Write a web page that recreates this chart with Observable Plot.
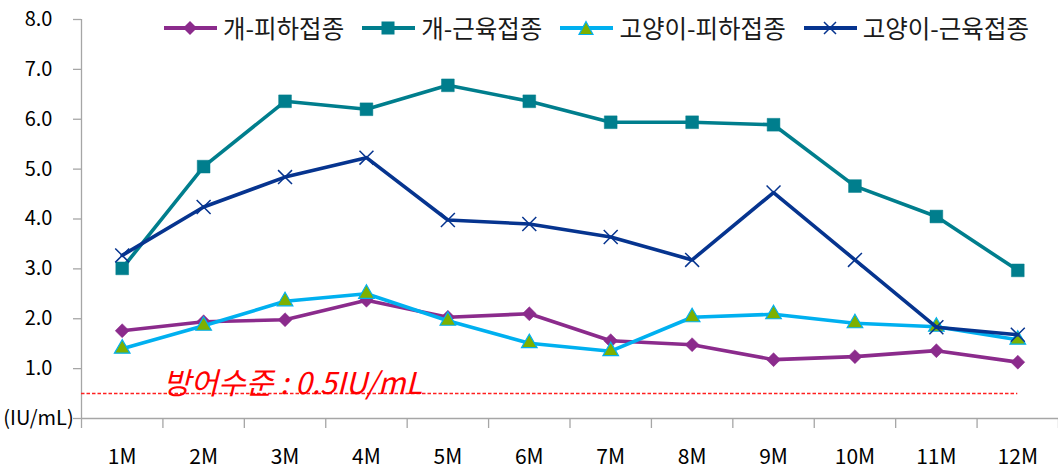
<!DOCTYPE html>
<html>
<head>
<meta charset="utf-8">
<script src="https://cdn.jsdelivr.net/npm/d3@7"></script>
<script src="https://cdn.jsdelivr.net/npm/@observablehq/plot@0.6"></script>
<style>
  html, body { margin: 0; padding: 0; background: #fff; }
  #wrap { position: relative; width: 1058px; height: 472px; font-family: "Noto Sans CJK KR", "Noto Sans", sans-serif; }
  #legend { position: absolute; top: 13px; left: 164px; display: flex; gap: 18px; align-items: center; font-size: 24.5px; color: #1a1a1a; }
  .item { display: flex; align-items: center; gap: 6px; white-space: nowrap; line-height: 30px; }
  .item svg { display: block; }
</style>
</head>
<body>
<div id="wrap"><div id="legend"></div></div>
<script>
const months = ["1M","2M","3M","4M","5M","6M","7M","8M","9M","10M","11M","12M"];
const seriesNames = ["개-피하접종", "개-근육접종", "고양이-피하접종", "고양이-근육접종"];
const dogSubq = [1.76, 1.94, 1.98, 2.37, 2.03, 2.10, 1.56, 1.48, 1.18, 1.24, 1.36, 1.13];
const dogIM   = [3.01, 5.05, 6.36, 6.20, 6.68, 6.36, 5.94, 5.94, 5.89, 4.66, 4.05, 2.97];
const catSubq = [1.40, 1.86, 2.35, 2.50, 1.96, 1.51, 1.35, 2.03, 2.09, 1.91, 1.84, 1.58];
const catIM   = [3.27, 4.24, 4.84, 5.23, 3.98, 3.90, 3.64, 3.18, 4.53, 3.18, 1.83, 1.68];
const yTicks = [0, 1, 2, 3, 4, 5, 6, 7, 8];
const yUnitLabel = "(IU/mL)";
const protectLevel = 0.5;
const protectLabel = "방어수준 : 0.5IU/mL";

const lineColors = ["#8B2B8C", "#007E8D", "#00B0F0", "#06348F"];
const markFill   = ["#8B2B8C", "#007E8D", "#7DB000", "none"];
const markStroke = ["#8B2B8C", "#007E8D", "#00B0F0", "#06348F"];
const symbols    = ["diamond2", "square", "triangle", "times"];
const symR       = [6.3, 7.2, 5.8, 6.4];

const allSeries = [dogSubq, dogIM, catSubq, catIM];
const rows = [];
allSeries.forEach((vals, s) => vals.forEach((v, i) => rows.push({s, series: seriesNames[s], m: i + 1, v})));

const gray = "#A6A6A6";
const boundaries = d3.range(0.5, months.length + 1, 1);
const centers = d3.range(1, months.length + 1);

const marks = [
  Plot.ruleY([0], {x1: 0.5, x2: months.length + 0.5, stroke: gray, strokeWidth: 1.3}),
  Plot.ruleX([0.5], {y1: 0, y2: 8, stroke: gray, strokeWidth: 1.3}),
  Plot.axisX(boundaries, {tickSize: 10, tickFormat: () => "", stroke: gray, strokeWidth: 1.3, label: null}),
  Plot.axisX(centers, {tickSize: 0, tickPadding: 31, tickFormat: d => months[d - 1], fontSize: 21, fill: "#000", label: null}),
  Plot.axisY(yTicks, {tickSize: 8, tickPadding: 35, textAnchor: "middle", fontSize: 20, fill: "#000", stroke: gray, strokeWidth: 1.3,
    tickFormat: d => d === 0 ? yUnitLabel : d.toFixed(1), label: null}),
  Plot.ruleY([protectLevel], {x1: 0.5, x2: months.length, stroke: "#FF2020", strokeWidth: 1.5, strokeDasharray: "3.5,2"}),
  Plot.text([protectLabel], {x: 1.5, y: protectLevel, text: d => d, textAnchor: "start", lineAnchor: "bottom", dy: 0,
    fill: "#FF0000", fontStyle: "italic", fontSize: 30})
];

allSeries.forEach((vals, s) => {
  const data = rows.filter(r => r.s === s);
  marks.push(Plot.line(data, {x: "m", y: "v", stroke: lineColors[s], strokeWidth: 3.6, curve: "linear"}));
  marks.push(Plot.dot(data, {x: "m", y: "v", symbol: symbols[s], r: symR[s],
    fill: markFill[s], stroke: markStroke[s], strokeWidth: s === 3 ? 1.5 : (s === 2 ? 1.2 : 0.5)}));
});

const chart = Plot.plot({
  width: 1058,
  height: 472,
  marginLeft: 81,
  marginRight: 0,
  marginTop: 19,
  marginBottom: 54,
  x: {domain: [0.5, months.length + 0.5]},
  y: {domain: [0, 8]},
  style: {fontFamily: "'Noto Sans CJK KR', 'Noto Sans', sans-serif", color: "#000", background: "transparent", overflow: "visible"},
  marks
});
document.getElementById("wrap").prepend(chart);

// Legend
const legend = document.getElementById("legend");
const swatchShapes = [
  `<polygon points="26,1 33,8 26,15 19,8" fill="${markFill[0]}"/>`,
  `<rect x="19.5" y="1.5" width="13" height="13" fill="${markFill[1]}"/>`,
  `<polygon points="26,1.5 33,14.5 19,14.5" fill="${markFill[2]}" stroke="${markStroke[2]}" stroke-width="1.2"/>`,
  `<path d="M20,2L32,14M32,2L20,14" stroke="${markStroke[3]}" stroke-width="1.5"/>`
];
seriesNames.forEach((name, s) => {
  const item = document.createElement("div");
  item.className = "item";
  item.innerHTML = `<svg width="53" height="16" viewBox="0 0 53 16"><line x1="0" y1="8" x2="53" y2="8" stroke="${lineColors[s]}" stroke-width="4"/>${swatchShapes[s]}</svg><span>${name}</span>`;
  legend.appendChild(item);
});
</script>
</body>
</html>
